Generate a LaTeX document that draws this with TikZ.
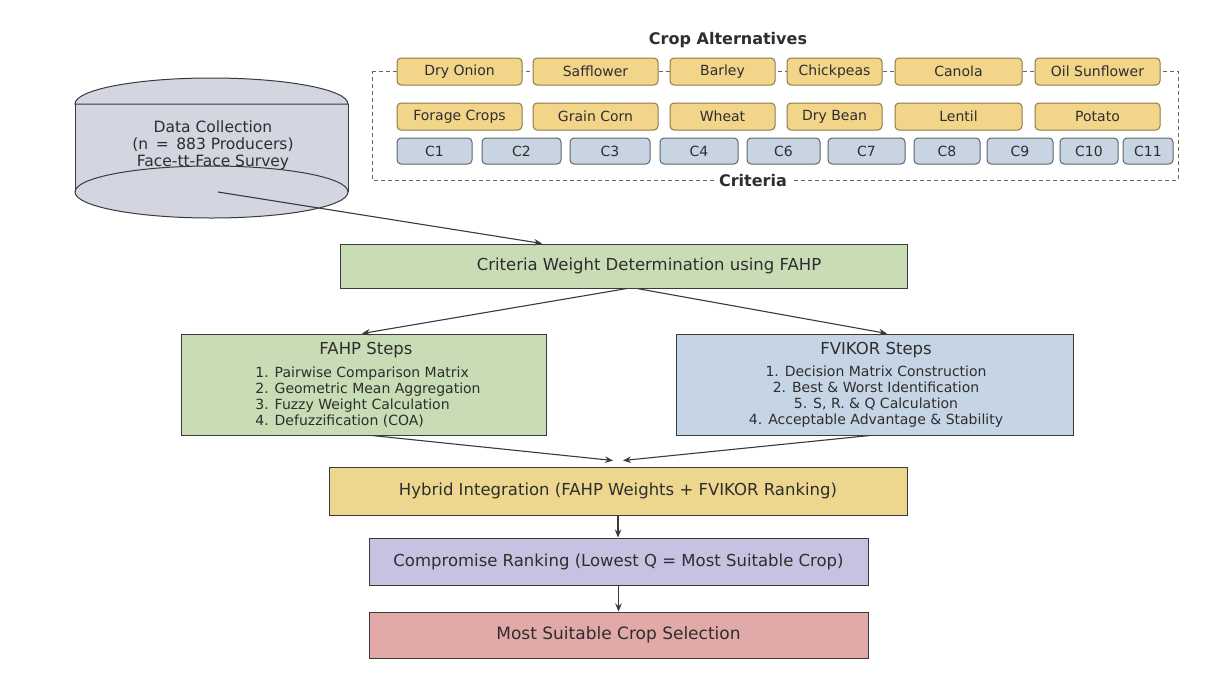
\documentclass[tikz,border=0pt]{standalone}
\usepackage{fontspec}
\setmainfont{DejaVu Sans}
\usetikzlibrary{arrows.meta,calc}
\definecolor{cropY}{HTML}{F3D58A}
\definecolor{cropB}{HTML}{8B7B45}
\definecolor{critF}{HTML}{C8D4E2}
\definecolor{critB}{HTML}{5E6670}
\definecolor{grnF}{HTML}{C8DCB5}
\definecolor{bluF}{HTML}{C6D5E6}
\definecolor{hybF}{HTML}{EDD68E}
\definecolor{cmpF}{HTML}{C6C2E2}
\definecolor{mstF}{HTML}{E2A9A9}
\definecolor{cylF}{HTML}{D3D5E0}
\definecolor{txt}{HTML}{2E2E2E}
\definecolor{edge}{HTML}{3A3A3A}
\tikzset{
  every node/.style={text=txt},
  cropbox/.style={draw=cropB, fill=cropY, rounded corners=4pt, line width=1pt,
    minimum height=27pt, inner sep=0pt, font=\fontsize{14}{16}\selectfont},
  critbox/.style={draw=critB, fill=critF, rounded corners=4pt, line width=1pt,
    minimum height=26pt, inner sep=0pt, font=\fontsize{14}{16}\selectfont},
  mainbox/.style={draw=edge, line width=1pt, inner sep=0pt,
    font=\fontsize{16.5}{19}\selectfont},
  flow/.style={draw=edge, line width=1.1pt, -{Stealth[length=8pt,width=6.5pt]}},
  frame/.style={draw=black!60, line width=0.9pt, dash pattern=on 4pt off 3pt},
}
\begin{document}
\begin{tikzpicture}[x=1pt,y=1pt]
\useasboundingbox (0,0) rectangle (1212,-675);
\fill[white] (0,0) rectangle (1212,-675);

% cylinder
\fill[cylF] (75,-104) arc[start angle=180, end angle=0, x radius=136.5pt, y radius=26pt]
  -- (348,-192) arc[start angle=0, end angle=-180, x radius=136.5pt, y radius=26pt] -- cycle;
\draw[edge, line width=1pt] (75,-104) arc[start angle=180, end angle=0, x radius=136.5pt, y radius=26pt] -- cycle;
\draw[edge, line width=1pt] (75,-104) -- (75,-192) (348,-104) -- (348,-192);
\draw[edge, line width=1pt] (211.5,-192) ellipse[x radius=136.5pt, y radius=26pt];
\node[align=center, font=\fontsize{15.5}{17}\selectfont] (data) at (213,-145)
  {Data Collection\\(n \,=\, 883 Producers)\\Face-tt-Face Survey};
\coordinate (datastart) at (218,-192);

% dashed frame
\draw[frame] (372,-71) -- (1178,-71) -- (1178,-180) -- (372,-180) -- cycle;
\node[font=\bfseries\fontsize{16}{18}\selectfont] (ca) at (728,-40) {Crop Alternatives};
\node[fill=white, inner xsep=5pt, inner ysep=2pt, font=\bfseries\fontsize{16}{18}\selectfont] (crit) at (753,-181) {Criteria};

% crop row 1
\node[cropbox, minimum width=125pt] (c11) at (459.5,-71.5) {Dry Onion};
\node[cropbox, minimum width=125pt] (c12) at (595.5,-71.5) {Safflower};
\node[cropbox, minimum width=105pt] (c13) at (722.5,-71.5) {Barley};
\node[cropbox, minimum width=95pt] (c14) at (834.5,-71.5) {Chickpeas};
\node[cropbox, minimum width=127pt] (c15) at (958.5,-71.5) {Canola};
\node[cropbox, minimum width=125pt] (c16) at (1097.5,-71.5) {Oil Sunflower};
% crop row 2
\node[cropbox, minimum width=125pt] (c21) at (459.5,-116.5) {Forage Crops};
\node[cropbox, minimum width=125pt] (c22) at (595.5,-116.5) {Grain Corn};
\node[cropbox, minimum width=105pt] (c23) at (722.5,-116.5) {Wheat};
\node[cropbox, minimum width=95pt] (c24) at (834.5,-116.5) {Dry Bean};
\node[cropbox, minimum width=127pt] (c25) at (958.5,-116.5) {Lentil};
\node[cropbox, minimum width=125pt] (c26) at (1097.5,-116.5) {Potato};
% criteria row
\node[critbox, minimum width=75pt] (k1) at (434.5,-151) {C1};
\node[critbox, minimum width=79pt] (k2) at (521.5,-151) {C2};
\node[critbox, minimum width=80pt] (k3) at (610,-151) {C3};
\node[critbox, minimum width=78pt] (k4) at (699,-151) {C4};
\node[critbox, minimum width=73pt] (k6) at (783.5,-151) {C6};
\node[critbox, minimum width=77pt] (k7) at (866.5,-151) {C7};
\node[critbox, minimum width=66pt] (k8) at (947,-151) {C8};
\node[critbox, minimum width=66pt] (k9) at (1020,-151) {C9};
\node[critbox, minimum width=58pt] (k10) at (1089,-151) {C10};
\node[critbox, minimum width=50pt] (k11) at (1148,-151) {C11};

% main flow
\node[mainbox, fill=grnF, minimum width=567pt, minimum height=44pt] (cw) at (623.5,-266) {};
\node[font=\fontsize{16.5}{19}\selectfont] (cwt) at (649,-266) {Criteria Weight Determination using FAHP};

\node[mainbox, fill=grnF, minimum width=365pt, minimum height=101pt] (fahp) at (363.5,-384.5) {};
\node[font=\fontsize{16.5}{19}\selectfont] (fahpt) at (366,-350) {FAHP Steps};
\node[align=left, font=\fontsize{14}{16}\selectfont] (fahpl) at (368,-397)
  {1. Pairwise Comparison Matrix\\2. Geometric Mean Aggregation\\3. Fuzzy Weight Calculation\\4. Defuzzification (COA)};

\node[mainbox, fill=bluF, minimum width=397pt, minimum height=101pt] (fvik) at (874.5,-384.5) {};
\node[font=\fontsize{16.5}{19}\selectfont] (fvikt) at (876,-350) {FVIKOR Steps};
\node[align=center, font=\fontsize{14}{16}\selectfont] (fvikl) at (876,-397)
  {1. Decision Matrix Construction\\2. Best \& Worst Identification\\5. S, R. \& Q Calculation\\4. Acceptable Advantage \& Stability};

\node[mainbox, fill=hybF, minimum width=578pt, minimum height=48pt] (hyb) at (618,-491)
  {Hybrid Integration (FAHP Weights + FVIKOR Ranking)};
\node[mainbox, fill=cmpF, minimum width=499pt, minimum height=47pt] (cmp) at (618.5,-561.5)
  {Compromise Ranking (Lowest Q = Most Suitable Crop)};
\node[mainbox, fill=mstF, minimum width=499pt, minimum height=46pt, font=\fontsize{17}{19}\selectfont] (mst) at (618.5,-635)
  {Most Suitable Crop Selection};

% connectors
\draw[flow] (datastart) -- ($(cw.north)+(-81.5,0)$);
\draw[flow] ($(cw.south)+(3.5,0)$) -- ($(fahp.north)+(-1.5,0)$);
\draw[flow] ($(cw.south)+(13.5,0)$) -- ($(fvik.north)+(12.5,0)$);
\draw[flow] ($(fahp.south)+(8.5,0)$) -- ($(hyb.north)+(-5,6)$);
\draw[flow] ($(fvik.south)+(-4.5,0)$) -- ($(hyb.north)+(5,6)$);
\draw[flow] (hyb.south) -- (hyb.south |- cmp.north);
\draw[flow] (cmp.south) -- (cmp.south |- mst.north);
\end{tikzpicture}
\end{document}
